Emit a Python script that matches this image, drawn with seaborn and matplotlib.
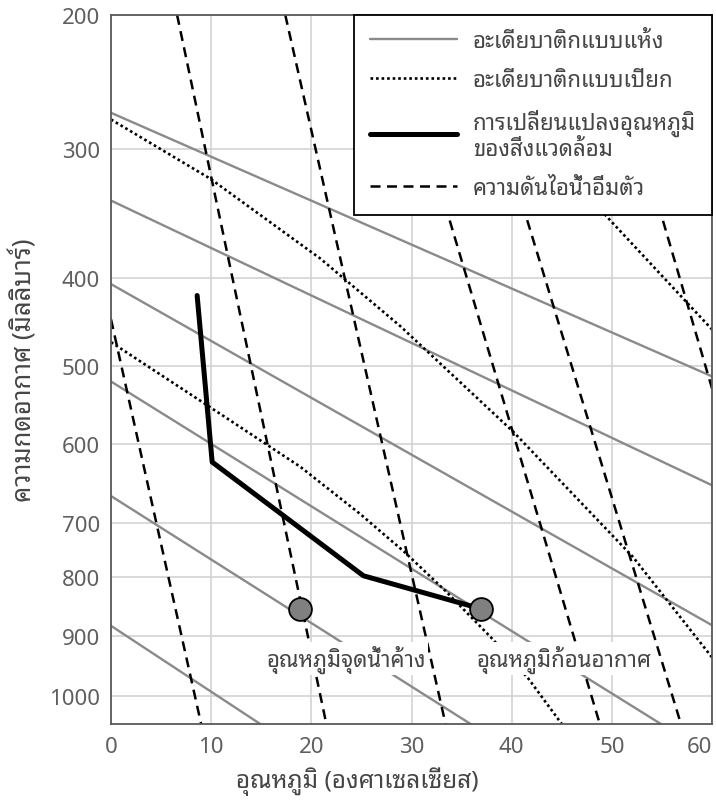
import numpy as np
import matplotlib
matplotlib.use("Agg")
import matplotlib.pyplot as plt
from matplotlib.lines import Line2D
import seaborn as sns

# --- Data: temperature (deg C) / pressure (mb) ---
dry_T = [[0, 60.1], [0, 60.1], [0, 60.1], [0, 54.9], [0, 35.9], [0, 14.9]]
dry_P = [[273, 514], [340, 653], [407, 883], [520, 1047], [666, 1047], [883, 1047]]

moist_T = [
    [0, 9.9, 20.9, 28.9, 40.2, 52.1, 60.1],
    [0, 9.9, 18.9, 24.9, 29.3, 33.4, 37.9, 41.7, 45.0],
    [36.9, 49.2, 60.2],
]
moist_P = [
    [278, 323, 385, 455, 585, 763, 938],
    [473, 553, 629, 689, 754, 824, 902, 972, 1047],
    [266, 350, 461],
]

sat_T = [[0, 9.0], [6.6, 21.5], [17.4, 33.4], [27.7, 48.8], [35.3, 56.9], [49.1, 69.8]]
sat_P = [[447, 1047], [200, 1047], [200, 1047], [200, 1047], [200, 1047], [200, 1047]]

env_T = [8.6, 10.1, 25.2, 36.9]
env_P = [420, 623, 798, 854]

dewpoint = (18.9, 854)
parcel = (36.9, 854)

p_ticks = [200, 300, 400, 500, 600, 700, 800, 900, 1000]
t_ticks = [0, 10, 20, 30, 40, 50, 60]

legend_labels = [
    "อะเดียบาติกแบบแห้ง",
    "อะเดียบาติกแบบเปียก",
    "การเปลี่ยนแปลงอุณหภูมิ\nของสิ่งแวดล้อม",
    "ความดันไอน้ำอิ่มตัว",
]

# --- Style ---
sns.set_theme(style="white")
plt.rcParams['font.family'] = ['Noto Sans Thai Looped', 'Noto Sans Thai', 'DejaVu Sans']

GRAY = "#8a8a8a"
TXT = "#454545"
DOT = (0, (1, 1.1))
DASH = (0, (4, 2.6))

# the pressure axis of the diagram is not evenly spaced: map tick values to positions
_scale_p = np.array([100, 200, 300, 400, 500, 600, 700, 800, 900, 1000, 1100], dtype=float)
_scale_pos = np.array([-118, 16, 150, 279, 367, 445, 524, 578, 637, 697, 757], dtype=float)


def _fwd(p):
    return np.interp(p, _scale_p, _scale_pos)


def _inv(y):
    return np.interp(y, _scale_pos, _scale_p)


fig = plt.figure(figsize=(7.16, 8.03), dpi=100)
ax = fig.add_axes([111 / 716, 1 - 725 / 803, 601 / 716, 709 / 803])
ax.set_yscale('function', functions=(_fwd, _inv))

# --- Lines ---
for T, P in zip(dry_T, dry_P):
    sns.lineplot(x=T, y=P, sort=False, estimator=None, ax=ax, color=GRAY, lw=1.7, zorder=2)

for T, P in zip(moist_T, moist_P):
    sns.lineplot(x=T, y=P, sort=False, estimator=None, ax=ax, color="black", lw=1.9,
                 linestyle=DOT, zorder=2)

for T, P in zip(sat_T, sat_P):
    sns.lineplot(x=T, y=P, sort=False, estimator=None, ax=ax, color="black", lw=1.8,
                 linestyle=DASH, zorder=2)

sns.lineplot(x=env_T, y=env_P, sort=False, estimator=None, ax=ax, color="black", lw=3.6,
             zorder=3)

sns.scatterplot(x=[dewpoint[0], parcel[0]], y=[dewpoint[1], parcel[1]], ax=ax, s=270,
                color="#808080", edgecolor="black", linewidth=1.3, zorder=4)

ax.annotate("อุณหภูมิจุดน้ำค้าง", xy=dewpoint, xytext=(33, -36), textcoords="offset points",
            ha="center", va="center", fontsize=16, color=TXT, zorder=4,
            bbox=dict(boxstyle="square,pad=0.1", fc="white", ec="none"))
ax.annotate("อุณหภูมิก้อนอากาศ", xy=parcel, xytext=(60, -36), textcoords="offset points",
            ha="center", va="center", fontsize=16, color=TXT, zorder=4,
            bbox=dict(boxstyle="square,pad=0.1", fc="white", ec="none"))

# --- Axes ---
ax.set_xlim(0, 60)
ax.set_ylim(1047, 200)
ax.set_xticks(t_ticks)
ax.set_yticks(p_ticks)
ax.set_yticklabels([str(v) for v in p_ticks])
ax.tick_params(axis="both", labelsize=16, labelcolor="#5f5f5f", length=0)
ax.tick_params(axis="x", pad=9)
ax.tick_params(axis="y", pad=8)
ax.get_xticklabels()[-1].set_ha("right")
ax.grid(True, color="#d0d0d0", lw=1.1)
for s in ax.spines.values():
    s.set_color("#595959")
    s.set_linewidth(1.3)

ax.set_xlabel("อุณหภูมิ (องศาเซลเซียส)", fontsize=17.5, color=TXT, labelpad=4)
ax.xaxis.set_label_coords(0.41, -0.06)
ax.set_ylabel("ความกดอากาศ (มิลลิบาร์)", fontsize=18.5, color=TXT, labelpad=8)

# --- Legend ---
handles = [
    Line2D([], [], color=GRAY, lw=1.7),
    Line2D([], [], color="black", lw=1.9, linestyle=DOT),
    Line2D([], [], color="black", lw=3.6),
    Line2D([], [], color="black", lw=1.8, linestyle=DASH),
]
leg = ax.legend(handles, legend_labels, loc="upper right", borderaxespad=0, fontsize=16,
                handlelength=3.9, handletextpad=0.72, labelspacing=0.8, borderpad=0.72,
                fancybox=False, framealpha=1, edgecolor="black", labelcolor=TXT)
leg.get_frame().set_linewidth(1.3)
leg.set_zorder(6)

fig.savefig("out.png", dpi=100)
